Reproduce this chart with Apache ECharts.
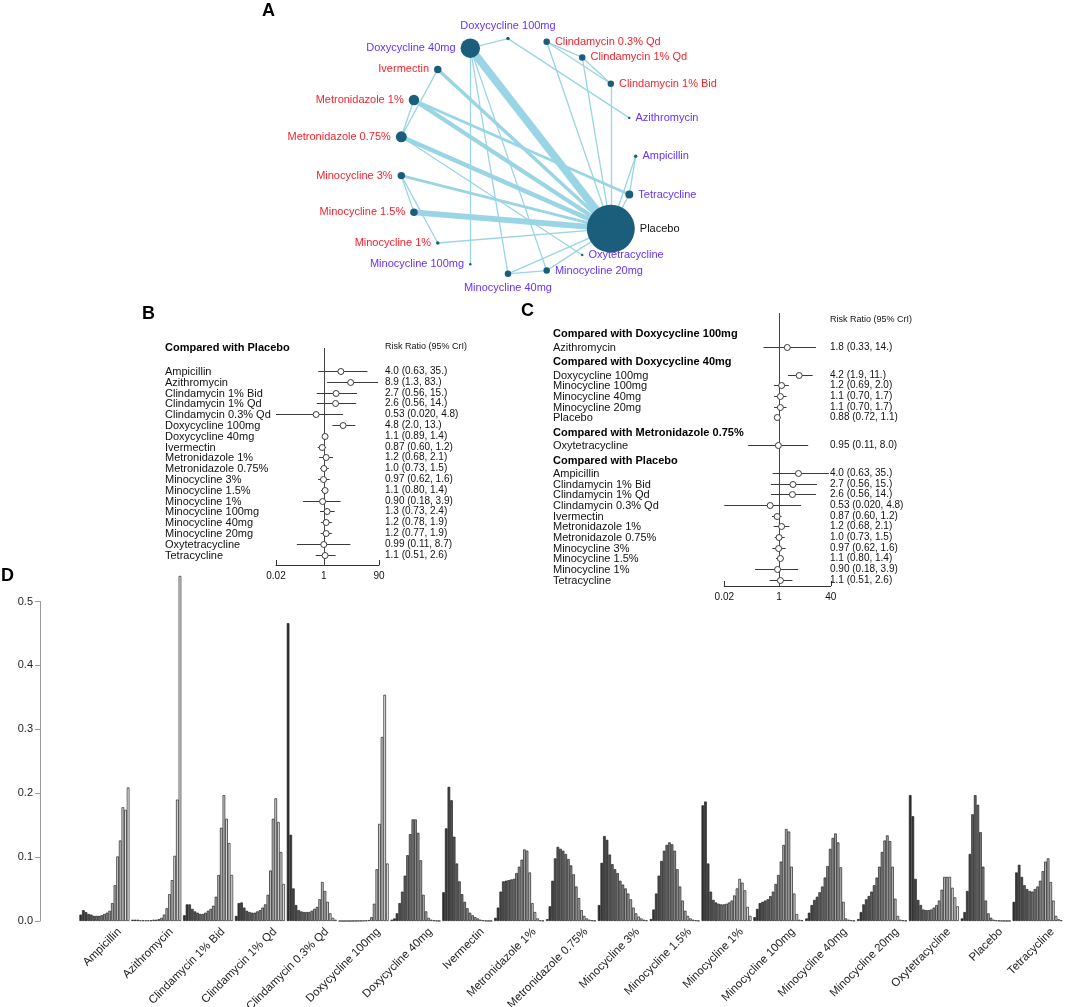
<!DOCTYPE html>
<html><head><meta charset="utf-8">
<script src="https://cdn.jsdelivr.net/npm/echarts@6/dist/echarts.min.js"></script>
<style>html,body{margin:0;padding:0;background:#fff}#chart{width:1065px;height:1007px}</style>
</head><body><div id="chart"></div>
<script>
// ================= DATA =================
const treatments = ['Ampicillin','Azithromycin','Clindamycin 1% Bid','Clindamycin 1% Qd','Clindamycin 0.3% Qd','Doxycycline 100mg','Doxycycline 40mg','Ivermectin','Metronidazole 1%','Metronidazole 0.75%','Minocycline 3%','Minocycline 1.5%','Minocycline 1%','Minocycline 100mg','Minocycline 40mg','Minocycline 20mg','Oxytetracycline','Placebo','Tetracycline'];
const treatmentRoute = ['oral','oral','topical','topical','topical','oral','oral','topical','topical','topical','topical','topical','topical','oral','oral','oral','oral','control','oral'];
const nodeWeight = [12, 6, 42, 42, 42, 12, 380, 56, 110, 121, 56, 56, 12, 6, 42, 42, 6, 2300, 64];
const networkEdges = [
  ['Doxycycline 40mg','Placebo',6],
  ['Minocycline 1.5%','Placebo',4.5],
  ['Metronidazole 1%','Placebo',3.2],
  ['Metronidazole 0.75%','Placebo',3.5],
  ['Ivermectin','Placebo',2.6],
  ['Minocycline 3%','Placebo',2.1],
  ['Metronidazole 1%','Tetracycline',2.1],
  ['Metronidazole 0.75%','Oxytetracycline',1],
  ['Ivermectin','Metronidazole 0.75%',1],
  ['Metronidazole 1%','Metronidazole 0.75%',1],
  ['Minocycline 3%','Minocycline 1.5%',1],
  ['Minocycline 3%','Minocycline 1%',1],
  ['Minocycline 1%','Placebo',1],
  ['Doxycycline 40mg','Doxycycline 100mg',1],
  ['Doxycycline 40mg','Minocycline 100mg',1],
  ['Doxycycline 40mg','Minocycline 40mg',1],
  ['Doxycycline 40mg','Minocycline 20mg',1],
  ['Doxycycline 100mg','Azithromycin',1],
  ['Clindamycin 0.3% Qd','Clindamycin 1% Qd',1],
  ['Clindamycin 0.3% Qd','Clindamycin 1% Bid',1],
  ['Clindamycin 1% Qd','Clindamycin 1% Bid',1],
  ['Clindamycin 0.3% Qd','Placebo',1],
  ['Clindamycin 1% Qd','Placebo',1],
  ['Clindamycin 1% Bid','Placebo',1],
  ['Ampicillin','Tetracycline',1],
  ['Ampicillin','Placebo',1],
  ['Tetracycline','Placebo',1],
  ['Minocycline 40mg','Minocycline 20mg',1],
  ['Minocycline 40mg','Placebo',1],
  ['Minocycline 20mg','Placebo',1]
];

// Panel B: compared with placebo
const bGroups = ['Placebo'];
const bGroupOf = [0,0,0,0,0,0,0,0,0,0,0,0,0,0,0,0,0,0];
const bLabels = ['Ampicillin','Azithromycin','Clindamycin 1% Bid','Clindamycin 1% Qd','Clindamycin 0.3% Qd','Doxycycline 100mg','Doxycycline 40mg','Ivermectin','Metronidazole 1%','Metronidazole 0.75%','Minocycline 3%','Minocycline 1.5%','Minocycline 1%','Minocycline 100mg','Minocycline 40mg','Minocycline 20mg','Oxytetracycline','Tetracycline'];
const bEst  = [4.0, 8.9, 2.7, 2.6, 0.53, 4.8, 1.1, 0.87, 1.2, 1.0, 0.97, 1.1, 0.90, 1.3, 1.2, 1.2, 0.99, 1.1];
const bLow  = [0.63, 1.3, 0.56, 0.56, 0.020, 2.0, 0.89, 0.60, 0.68, 0.73, 0.62, 0.80, 0.18, 0.73, 0.78, 0.77, 0.11, 0.51];
const bHigh = [35, 83, 15, 14, 4.8, 13, 1.4, 1.2, 2.1, 1.5, 1.6, 1.4, 3.9, 2.4, 1.9, 1.9, 8.7, 2.6];
const bTicks = [0.02, 1, 90];

// Panel C
const cGroups = ['Doxycycline 100mg','Doxycycline 40mg','Metronidazole 0.75%','Placebo'];
const cGroupOf = [0, 1,1,1,1,1, 2, 3,3,3,3,3,3,3,3,3,3,3];
const cLabels = ['Azithromycin','Doxycycline 100mg','Minocycline 100mg','Minocycline 40mg','Minocycline 20mg','Placebo','Oxytetracycline','Ampicillin','Clindamycin 1% Bid','Clindamycin 1% Qd','Clindamycin 0.3% Qd','Ivermectin','Metronidazole 1%','Metronidazole 0.75%','Minocycline 3%','Minocycline 1.5%','Minocycline 1%','Tetracycline'];
const cEst  = [1.8, 4.2, 1.2, 1.1, 1.1, 0.88, 0.95, 4.0, 2.7, 2.6, 0.53, 0.87, 1.2, 1.0, 0.97, 1.1, 0.90, 1.1];
const cLow  = [0.33, 1.9, 0.69, 0.70, 0.70, 0.72, 0.11, 0.63, 0.56, 0.56, 0.020, 0.60, 0.68, 0.73, 0.62, 0.80, 0.18, 0.51];
const cHigh = [14, 11, 2.0, 1.7, 1.7, 1.1, 8.0, 35, 15, 14, 4.8, 1.2, 2.1, 1.5, 1.6, 1.4, 3.9, 2.6];
const cTicks = [0.02, 1, 40];

// Panel D: rank probabilities (rank 1..19) per treatment
const ampicillinRanks   = [0.010,0.017,0.014,0.011,0.010,0.008,0.008,0.008,0.009,0.011,0.013,0.016,0.028,0.056,0.101,0.126,0.178,0.174,0.209];
const azithromycinRanks = [0.002,0.002,0.002,0.001,0.001,0.001,0.001,0.001,0.002,0.002,0.003,0.005,0.010,0.020,0.042,0.064,0.102,0.190,0.540];
const clinda1BidRanks   = [0.009,0.026,0.026,0.019,0.015,0.013,0.011,0.011,0.013,0.016,0.019,0.024,0.038,0.072,0.146,0.197,0.160,0.122,0.072];
const clinda1QdRanks    = [0.008,0.028,0.029,0.021,0.016,0.014,0.013,0.013,0.015,0.017,0.021,0.026,0.041,0.079,0.160,0.192,0.155,0.108,0.058];
const clinda03QdRanks   = [0.466,0.135,0.051,0.025,0.017,0.015,0.014,0.014,0.014,0.016,0.019,0.022,0.034,0.061,0.047,0.030,0.012,0.005,0.002];
const doxy100Ranks      = [0,0,0,0,0,0.0001,0.0001,0.0002,0.0003,0.0005,0.0008,0.0015,0.006,0.027,0.081,0.152,0.288,0.354,0.090];
const doxy40Ranks       = [0.002,0.004,0.012,0.028,0.046,0.071,0.103,0.136,0.159,0.159,0.138,0.095,0.041,0.015,0.005,0.002,0.001,0.0005,0.0002];
const ivermectinRanks   = [0.045,0.145,0.210,0.189,0.132,0.090,0.062,0.042,0.030,0.020,0.013,0.009,0.006,0.004,0.002,0.001,0.0005,0.0003,0.0002];
const metro1Ranks       = [0.005,0.021,0.046,0.062,0.063,0.064,0.065,0.066,0.075,0.085,0.096,0.112,0.110,0.076,0.028,0.014,0.004,0.001,0.0005];
const metro075Ranks     = [0.003,0.023,0.063,0.098,0.116,0.113,0.110,0.105,0.097,0.087,0.073,0.054,0.036,0.017,0.008,0.004,0.002,0.001,0.0005];
const mino3Ranks        = [0.025,0.091,0.133,0.127,0.104,0.089,0.081,0.075,0.063,0.057,0.051,0.043,0.034,0.021,0.012,0.007,0.004,0.002,0.001];
const mino15Ranks       = [0.003,0.018,0.043,0.071,0.094,0.110,0.119,0.123,0.120,0.110,0.081,0.054,0.032,0.016,0.008,0.004,0.002,0.001,0.0005];
const mino1Ranks        = [0.181,0.187,0.090,0.046,0.033,0.029,0.027,0.026,0.026,0.027,0.029,0.032,0.040,0.051,0.066,0.060,0.048,0.022,0.008];
const mino100Ranks      = [0.006,0.019,0.028,0.030,0.032,0.034,0.039,0.046,0.058,0.072,0.093,0.119,0.144,0.140,0.085,0.043,0.011,0.002,0.001];
const mino40Ranks       = [0.004,0.013,0.025,0.033,0.038,0.045,0.054,0.068,0.086,0.113,0.130,0.137,0.123,0.084,0.030,0.004,0.002,0.001,0.0005];
const mino20Ranks       = [0.003,0.014,0.026,0.034,0.039,0.046,0.056,0.068,0.085,0.108,0.126,0.134,0.125,0.085,0.035,0.008,0.002,0.001,0.0005];
const oxytetRanks       = [0.197,0.164,0.066,0.033,0.025,0.018,0.017,0.017,0.018,0.021,0.025,0.032,0.049,0.069,0.069,0.069,0.052,0.037,0.023];
const placeboRanks      = [0.004,0.014,0.047,0.105,0.167,0.197,0.182,0.139,0.085,0.032,0.012,0.005,0.002,0.001,0.0005,0.0003,0.0002,0.0001,0.0001];
const tetracyclineRanks = [0.030,0.076,0.088,0.069,0.056,0.050,0.047,0.046,0.050,0.054,0.063,0.078,0.093,0.098,0.061,0.032,0.008,0.003,0.001];
const rankTable = [ampicillinRanks, azithromycinRanks, clinda1BidRanks, clinda1QdRanks, clinda03QdRanks, doxy100Ranks, doxy40Ranks, ivermectinRanks, metro1Ranks, metro075Ranks, mino3Ranks, mino15Ranks, mino1Ranks, mino100Ranks, mino40Ranks, mino20Ranks, oxytetRanks, placeboRanks, tetracyclineRanks];
const yTicksD = [0, 0.1, 0.2, 0.3, 0.4, 0.5];

// ================= LAYOUT / STYLE =================
const FONT = '"Liberation Sans", Arial, Helvetica, sans-serif';
const ringCenter = [517.7, 156.2];
const ringRadius = 118;
const routeColor = { oral: '#6633FF', topical: '#F5222D', control: '#111111' };

const n = treatments.length;
const graphNodes = treatments.map((t, i) => {
  const a = -i * 2 * Math.PI / n;
  const ux = Math.cos(a), uy = Math.sin(a);
  const pos = Math.abs(ux) < 0.15 ? (uy < 0 ? 'top' : 'bottom') : (ux > 0 ? 'right' : 'left');
  return {
    name: t,
    x: ringCenter[0] + ringRadius * ux,
    y: ringCenter[1] + ringRadius * uy,
    symbolSize: Math.sqrt(nodeWeight[i]),
    label: { position: pos, color: routeColor[treatmentRoute[i]] }
  };
});
const gxs = graphNodes.map(d => d.x), gys = graphNodes.map(d => d.y);
const gMinX = Math.min(...gxs), gMaxX = Math.max(...gxs), gMinY = Math.min(...gys), gMaxY = Math.max(...gys);

function fmtNum(v) { let s = Number(v).toPrecision(2); if (s.indexOf('.') < 0) s += '.'; return s; }

function forestRows(groups, groupOf, labels, est, low, high, gapAfterHeader, gapBeforeHeader) {
  const rows = []; let pos = null; let prev = -1;
  labels.forEach((lab, i) => {
    const g = groupOf[i];
    if (g !== prev) {
      pos = (pos === null) ? 0 : pos + gapBeforeHeader;
      rows.push({ header: true, label: 'Compared with ' + groups[g], pos });
      pos += gapAfterHeader; prev = g;
    } else pos += 1;
    rows.push({ header: false, label: lab, est: est[i], lo: low[i], hi: high[i], pos });
  });
  return rows;
}

// forest geometry (px)
const fB = { headerY: 347, unit: 10.8, top: 348, bottom: 565, left: 276, right: 379, labelX: 165, valueX: 385 };
const fC = { headerY: 333.3, unit: 10.65, top: 313, bottom: 586, left: 724.3, right: 830.7, labelX: 553, valueX: 830 };
[fB, fC].forEach(f => { f.yMin = (f.top - f.headerY) / f.unit; f.yMax = (f.bottom - f.headerY) / f.unit; });

const rowsB = forestRows(bGroups, bGroupOf, bLabels, bEst, bLow, bHigh, 2.22, 1.35);
const rowsC = forestRows(cGroups, cGroupOf, cLabels, cEst, cLow, cHigh, 1.27, 1.35);

function forestSeries(idx, rows, f) {
  return {
    type: 'custom', xAxisIndex: idx, yAxisIndex: idx, silent: true, z: 5,
    encode: { x: [0, 1, 2], y: 3 },
    data: rows.map(r => r.header ? [1, 1, 1, r.pos] : [r.est, r.lo, r.hi, r.pos]),
    renderItem(params, api) {
      const r = rows[params.dataIndex];
      const y = Math.round(api.coord([1, api.value(3)])[1]) + 0.5;
      if (r.header) {
        return { type: 'text', style: { text: r.label, x: f.labelX, y, font: 'bold 11px ' + FONT, fill: '#000', align: 'left', verticalAlign: 'middle' } };
      }
      const xe = api.coord([api.value(0), api.value(3)])[0];
      const xl = api.coord([api.value(1), api.value(3)])[0];
      const xh = api.coord([api.value(2), api.value(3)])[0];
      return { type: 'group', children: [
        { type: 'text', style: { text: r.label, x: f.labelX, y, font: '11px ' + FONT, fill: '#111', align: 'left', verticalAlign: 'middle' } },
        { type: 'line', shape: { x1: xl, y1: y, x2: xh, y2: y }, style: { stroke: '#3a3a3a', lineWidth: 1 } },
        { type: 'circle', shape: { cx: xe, cy: y, r: 3 }, style: { fill: '#fff', stroke: '#3a3a3a', lineWidth: 1 } },
        { type: 'text', style: { text: fmtNum(api.value(0)) + ' (' + fmtNum(api.value(1)) + ', ' + fmtNum(api.value(2)) + ')', x: f.valueX, y, font: '10px ' + FONT, fill: '#111', align: 'left', verticalAlign: 'middle' } }
      ] };
    }
  };
}

function tickSeries(idx, ticks, f, refValue) {
  return {
    type: 'custom', xAxisIndex: idx, yAxisIndex: idx, silent: true, z: 4,
    encode: { x: 0, y: 1 },
    data: ticks.map(t => [t, f.yMax]),
    renderItem(params, api) {
      const v = api.value(0);
      const p = api.coord([v, f.yMax]);
      const x = Math.round(p[0]) + 0.5;
      const children = [
        { type: 'line', shape: { x1: x, y1: p[1], x2: x, y2: p[1] - 5 }, style: { stroke: '#333', lineWidth: 1 } },
        { type: 'text', style: { text: String(ticks[params.dataIndex]), x: p[0], y: p[1] + 6, font: '10px ' + FONT, fill: '#111', align: 'center', verticalAlign: 'top' } }
      ];
      if (v === refValue) {
        const top = api.coord([v, f.yMin]);
        children.push({ type: 'line', shape: { x1: x, y1: top[1], x2: x, y2: p[1] }, style: { stroke: '#444', lineWidth: 1 } });
      }
      return { type: 'group', children };
    }
  };
}

function forestGrid(f) {
  return { left: f.left, top: f.top, width: f.right - f.left, height: f.bottom - f.top, outerBoundsMode: 'none', containLabel: false };
}
function forestX(idx, f, ticks) {
  return { type: 'log', logBase: 10, gridIndex: idx, min: ticks[0], max: ticks[ticks.length - 1], position: 'bottom',
    axisLine: { show: true, onZero: false, lineStyle: { color: '#333', width: 1 } }, axisTick: { show: false }, axisLabel: { show: false }, splitLine: { show: false } };
}
function forestY(idx, f) {
  return { type: 'value', gridIndex: idx, inverse: true, min: f.yMin, max: f.yMax, show: false, splitLine: { show: false }, axisLine: { onZero: false } };
}

// Panel D geometry
const dLeft = 78.5, dWidth = 985, dTop = 601.5, dBottom = 921;
const labelShift = 15;

const rankSeries = [];
for (let r = 0; r < 19; r++) {
  const g = Math.round(255 * (0.18 + 0.77 * r / 18));
  const col = 'rgb(' + g + ',' + g + ',' + g + ')';
  rankSeries.push({
    type: 'bar', name: 'Rank ' + (r + 1), xAxisIndex: 2, yAxisIndex: 2,
    data: rankTable.map(arr => arr[r]),
    barGap: '0%', barCategoryGap: '3.5%', clip: false, silent: true,
    itemStyle: { color: col, borderColor: '#222', borderWidth: 0.7 }
  });
}

const option = {
  animation: false,
  backgroundColor: '#fff',
  textStyle: { fontFamily: FONT },
  grid: [
    forestGrid(fB),
    forestGrid(fC),
    { left: dLeft, top: dTop, width: dWidth, height: dBottom - dTop, outerBoundsMode: 'none', containLabel: false },
    { left: dLeft + labelShift, top: dTop, width: dWidth, height: dBottom - dTop, outerBoundsMode: 'none', containLabel: false }
  ],
  xAxis: [
    forestX(0, fB, bTicks),
    forestX(1, fC, cTicks),
    { type: 'category', gridIndex: 2, data: treatments, axisLine: { show: false }, axisTick: { show: false }, axisLabel: { show: false } },
    { type: 'category', gridIndex: 3, data: treatments, axisLine: { show: false }, axisTick: { show: false },
      axisLabel: { show: true, rotate: 45, interval: 0, fontSize: 11.5, color: '#222', fontFamily: FONT, margin: 9 } }
  ],
  yAxis: [
    forestY(0, fB),
    forestY(1, fC),
    { type: 'value', gridIndex: 2, min: yTicksD[0], max: yTicksD[yTicksD.length - 1], interval: 0.1, offset: dLeft - 40,
      axisLine: { show: true, lineStyle: { color: '#9a9a9a', width: 1 } },
      axisTick: { show: true, length: 5, lineStyle: { color: '#9a9a9a' } },
      axisLabel: { show: true, fontSize: 11, color: '#222', margin: 7, formatter: v => v.toFixed(1) },
      splitLine: { show: false } },
    { type: 'value', gridIndex: 3, show: false, splitLine: { show: false } }
  ],
  graphic: [
    { type: 'text', left: 262, top: 2, style: { text: 'A', font: 'bold 18px ' + FONT, fill: '#000' } },
    { type: 'text', left: 142, top: 305, style: { text: 'B', font: 'bold 18px ' + FONT, fill: '#000' } },
    { type: 'text', left: 521, top: 302, style: { text: 'C', font: 'bold 18px ' + FONT, fill: '#000' } },
    { type: 'text', left: 1, top: 567, style: { text: 'D', font: 'bold 18px ' + FONT, fill: '#000' } },
    { type: 'text', x: fB.valueX, y: fB.headerY, style: { text: 'Risk Ratio (95% CrI)', font: '9px ' + FONT, fill: '#111', verticalAlign: 'middle' } },
    { type: 'text', x: fC.valueX, y: 320, style: { text: 'Risk Ratio (95% CrI)', font: '9px ' + FONT, fill: '#111', verticalAlign: 'middle' } }
  ],
  series: [
    {
      type: 'graph', layout: 'none', roam: false, silent: true, nodeScaleRatio: 0,
      left: gMinX, top: gMinY, width: gMaxX - gMinX, height: gMaxY - gMinY,
      data: graphNodes,
      links: networkEdges.map(([s, t, w]) => ({ source: s, target: t, lineStyle: { width: 1.3 * w } })),
      itemStyle: { color: '#1B5E7B' },
      lineStyle: { color: '#99D5E4', opacity: 1, curveness: 0 },
      label: { show: true, fontSize: 11, fontFamily: FONT, distance: 5 },
      emphasis: { disabled: true }
    },
    tickSeries(0, bTicks, fB, 1),
    forestSeries(0, rowsB, fB),
    tickSeries(1, cTicks, fC, 1),
    forestSeries(1, rowsC, fC),
    ...rankSeries
  ]
};

const chart = echarts.init(document.getElementById('chart'), null, { renderer: 'canvas' });
chart.setOption(option);
</script>
</body></html>
